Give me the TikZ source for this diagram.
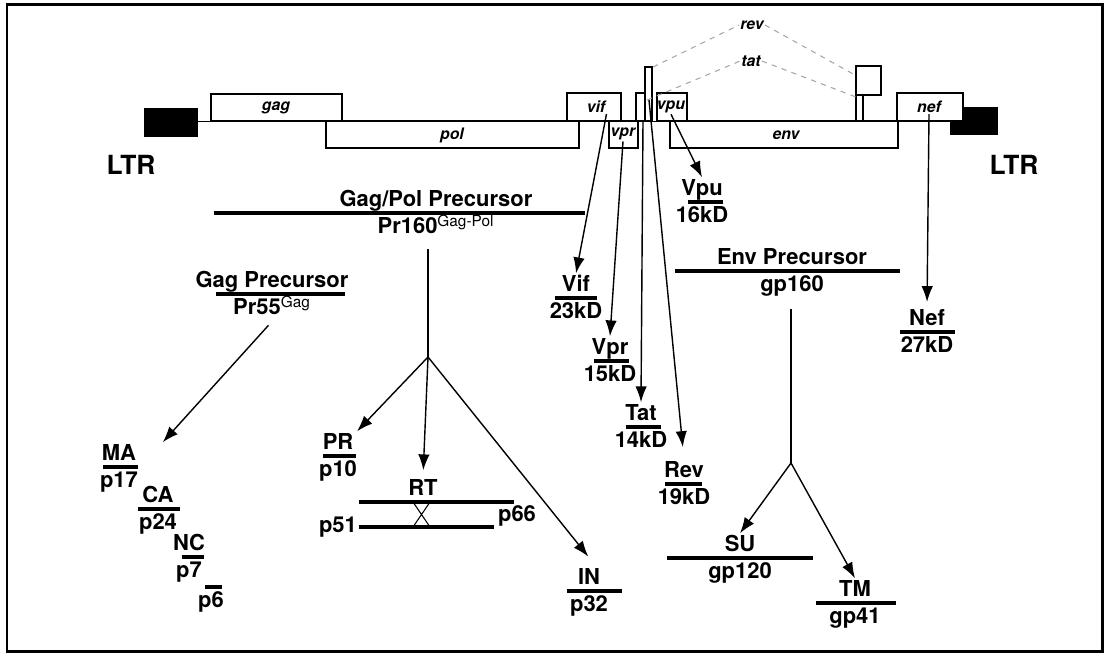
\documentclass[tikz,border=0pt]{standalone}
\usepackage{fontspec}
\setmainfont{TeX Gyre Heros}
\usetikzlibrary{arrows.meta}

\tikzset{
  gene/.style={draw, fill=white, line width=0.8pt},
  glbl/.style={font=\fontsize{9}{10}\selectfont\bfseries\itshape, inner sep=0.5pt},
  lbl/.style={font=\fontsize{12.5}{14}\selectfont\bfseries, inner sep=1pt, text height=9.2pt, text depth=2.5pt},
  bar/.style={line width=2.3pt},
  arr/.style={-{Latex[length=9pt,width=6.5pt]}, line width=0.8pt},
  splice/.style={gray!70, dash pattern=on 3pt off 3pt, line width=0.6pt}
}

% protein: name, text x, rule y, rule from x, rule to x, top text, bottom text
\newcommand{\prot}[7]{%
  \draw[bar] (#4,#3) -- (#5,#3);
  \node[lbl, anchor=south] (#1-t) at (#2,#3) {#6};
  \node[lbl, anchor=north, yshift=-1.5pt] (#1-b) at (#2,#3) {#7};}

\begin{document}
\begin{tikzpicture}[x=0.02cm, y=-0.02cm]
  \useasboundingbox (0,0) rectangle (1105,654);
  \draw[line width=1.7pt] (7,4) rectangle (1102,651);

  % genome
  \draw[line width=0.5pt] (198,121) -- (950,121);
  \fill (144,108) rectangle (198,137);
  \fill (950,107) rectangle (998,135);
  \node[font=\fontsize{15}{16}\selectfont\bfseries] (ltrl) at (131,165) {LTR};
  \node[font=\fontsize{15}{16}\selectfont\bfseries] (ltrr) at (1014,165) {LTR};

  \draw[gene] (211,94) rectangle (342,121);
  \node[glbl] (g-gag) at (276,108) {gag};
  \draw[gene] (326,121) rectangle (579,148);
  \node[glbl] (g-pol) at (452,135) {pol};
  \draw[gene] (567,93) rectangle (621,121);
  \node[glbl] (g-vif) at (596,107) {vif};
  \draw[gene] (609,121) rectangle (638,148);
  \node[glbl] (g-vpr) at (623,134) {vpr};
  \draw[gene] (636,93) rectangle (652,121);
  \draw[gene] (645,67) rectangle (652,121);
  \draw[gene] (657,93) rectangle (687,121);
  \node[glbl] (g-vpu) at (671,107) {vpu};
  \draw[gene] (670,121) rectangle (898,148);
  \node[glbl] (g-env) at (786,135) {env};
  \draw[gene] (856,66) rectangle (881,95);
  \draw[gene] (856,95) rectangle (863,121);
  \draw[gene] (897,93) rectangle (963,121);
  \node[glbl] (g-nef) at (929,107) {nef};

  % splicing
  \node[glbl] (s-rev) at (752,25) {rev};
  \node[glbl] (s-tat) at (751,61) {tat};
  \draw[splice] (653,67) -- (s-rev.west);
  \draw[splice] (s-rev.east) -- (855,75);
  \draw[splice] (647,100) -- (s-tat.west);
  \draw[splice] (s-tat.east) -- (856,97);

  % proteins
  \prot{gagpol}{436}{213}{214}{585}{Gag/Pol Precursor}{Pr160\textsuperscript{\mdseries Gag-Pol}}
  \prot{gagpre}{272}{294}{216}{345}{Gag Precursor}{Pr55\textsuperscript{\mdseries Gag}}
  \prot{envpre}{792}{271}{675}{900}{Env Precursor}{gp160}
  \prot{vpu}{702}{202}{688}{723}{Vpu}{16kD}
  \prot{vif}{576}{298}{555}{597}{Vif}{23kD}
  \prot{vpr}{610}{361}{594}{629}{Vpr}{15kD}
  \prot{tat}{641}{427}{626}{661}{Tat}{14kD}
  \prot{rev}{684}{484}{665}{702}{Rev}{19kD}
  \prot{nef}{927}{332}{900}{955}{Nef}{27kD}
  \prot{ma}{119}{467}{103}{138}{MA}{p17}
  \prot{ca}{158}{509}{138}{180}{CA}{p24}
  \prot{nc}{189}{557}{182}{204}{NC}{p7}
  \prot{p6}{211}{587}{205}{222}{}{p6}
  \prot{pr}{338}{456}{323}{356}{PR}{p10}
  \prot{int}{589}{591}{567}{622}{IN}{p32}
  \prot{su}{740}{558}{667}{813}{SU}{gp120}
  \prot{tm}{855}{603}{816}{896}{TM}{gp41}

  % RT heterodimer
  \draw[bar] (359,502) -- (514,502);
  \draw[bar] (359,527) -- (494,527);
  \node[lbl, anchor=south] (rt-t) at (423,502) {RT};
  \node[lbl, anchor=east] (p51) at (359,527) {p51};
  \node[lbl, anchor=west] (p66) at (496,516) {p66};
  \draw[line width=0.6pt] (413,502) -- (430,527) (430,502) -- (413,527);

  % processing
  \coordinate (polsplit) at (428,357);
  \coordinate (envsplit) at (791,463);
  \coordinate (tatx) at (643,121);
  \coordinate (revx) at (649,100);
  \draw[line width=0.6pt, shorten <=5pt] (polsplit |- gagpol-b.south) -- (polsplit);
  \draw[line width=0.6pt, shorten <=6pt] (envsplit |- envpre-b.south) -- (envsplit);
  \draw[arr, shorten <=3pt] (gagpre-b.south) -- ([xshift=14pt]ma-t.north east);
  \draw[arr] (polsplit) -- ([xshift=1pt]pr-t.north east);
  \draw[arr, shorten >=4pt] (polsplit) -- (rt-t.north);
  \draw[arr, shorten >=7pt] (polsplit) -- ([xshift=4pt]int-t.north);
  \draw[arr] (envsplit) -- (su-t.north);
  \draw[arr] (envsplit) -- (tm-t.north);
  \draw[arr] (g-vif.south east) -- (vif-t.north);
  \draw[arr] (g-vpr.south) -- (vpr-t.north);
  \draw[arr] (tatx) -- (tat-t.north);
  \draw[arr, shorten >=7pt] (revx) -- (rev-t.north);
  \draw[arr] (g-vpu.south) -- (vpu-t.north);
  \draw[arr, shorten >=3pt] (g-nef.south) -- (nef-t.north);
\end{tikzpicture}
\end{document}
